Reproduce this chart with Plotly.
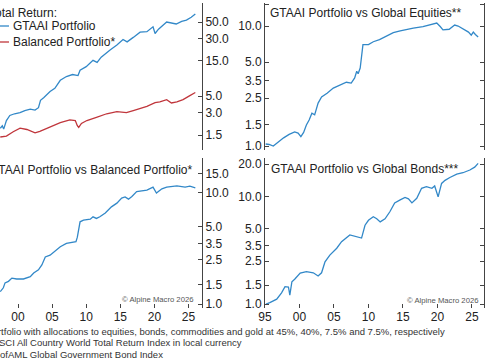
import plotly.graph_objects as go

W, H = 485, 360

# ---------------- data ----------------
tr_years = [1997.4, 1997.7, 1997.9, 1998.3, 1998.8, 1999.5, 2000.3, 2001.0, 2001.8, 2002.5,
            2003.0, 2003.3, 2003.8, 2004.7, 2005.4, 2006.2, 2007.1, 2008.0, 2008.8, 2009.1,
            2010.0, 2011.0, 2011.6, 2012.2, 2013.5, 2014.5, 2015.4, 2016.0, 2016.9, 2017.9,
            2018.9, 2019.8, 2020.1, 2020.6, 2021.8, 2022.5, 2023.2, 2024.0, 2024.7, 2025.4, 2026.0]
gtaai_tr = [1.85, 2.0, 1.8, 2.35, 2.75, 2.9, 3.0, 3.2, 3.35, 3.25,
            3.5, 4.4, 4.8, 5.8, 6.4, 8.2, 9.2, 9.8, 9.5, 11.2,
            12.5, 15.2, 14.3, 16.8, 21.0, 24.5, 29.0, 27.0, 31.0, 36.5,
            37.0, 43.0, 35.0, 40.0, 50.0, 48.0, 47.0, 51.0, 53.0, 58.0, 64.0]

bal_years = [1997.4, 1998.3, 1999.3, 2000.3, 2001.3, 2002.5, 2003.2, 2004.7, 2006.2, 2007.6,
             2008.4, 2008.7, 2008.9, 2009.3, 2010.1, 2011.5, 2013.0, 2014.5, 2015.9, 2016.9,
             2018.9, 2020.1, 2020.8, 2021.8, 2022.5, 2023.3, 2024.2, 2025.2, 2026.0]
balanced_tr = [1.41, 1.45, 1.66, 1.86, 1.78, 1.6, 1.68, 1.93, 2.2, 2.4,
               2.35, 2.0, 1.9, 2.15, 2.35, 2.6, 2.9, 3.1, 3.0, 3.2,
               3.65, 4.1, 4.2, 4.5, 4.05, 4.2, 4.5, 5.1, 5.6]

eq_years = [1995.1, 1995.6, 1996.2, 1996.9, 1997.7, 1998.5, 1999.3, 1999.8, 2000.2, 2000.6,
            2001.0, 2001.4, 2001.8, 2002.2, 2002.7, 2003.2, 2004.0, 2004.9, 2005.9, 2006.8,
            2007.5, 2008.0, 2008.3, 2008.5, 2008.8, 2009.2, 2010.0, 2010.7, 2011.6, 2012.6,
            2013.6, 2014.6, 2015.5, 2016.5, 2017.9, 2018.9, 2019.9, 2020.4, 2020.8, 2021.7,
            2022.5, 2023.0, 2023.7, 2024.5, 2024.9, 2025.2, 2025.5, 2025.9]
vs_equities = [1.04, 1.03, 1.0, 1.08, 1.17, 1.25, 1.31, 1.28, 1.2, 1.3,
               1.5, 1.65, 1.88, 1.82, 2.28, 2.56, 2.75, 3.04, 3.25, 3.4,
               3.35, 3.7, 4.2, 4.0, 4.47, 7.0, 7.0, 7.4, 7.7, 8.3,
               8.8, 9.1, 9.35, 9.6, 9.9, 10.2, 10.6, 9.9, 9.3, 9.4,
               10.2, 10.0, 9.4, 8.9, 8.4, 8.9, 8.5, 8.1]

bal_ratio_years = [1997.4, 1997.85, 1998.1, 1998.6, 1999.1, 1999.8, 2000.8, 2001.8, 2002.3, 2003.0,
                   2003.5, 2004.0, 2004.7, 2005.4, 2006.2, 2007.1, 2007.9, 2008.5, 2008.7, 2009.1,
                   2009.6, 2010.6, 2011.0, 2011.5, 2012.0, 2012.8, 2013.7, 2014.5, 2015.2, 2015.7,
                   2016.2, 2016.7, 2017.4, 2018.9, 2019.8, 2020.3, 2021.1, 2021.8, 2023.3, 2024.5,
                   2025.2, 2026.0]
vs_balanced = [1.29, 1.4, 1.55, 1.6, 1.71, 1.68, 1.68, 1.76, 1.9, 2.03,
               2.25, 2.65, 2.75, 2.96, 3.28, 3.52, 3.6, 3.65, 4.0, 5.5,
               5.7, 5.8, 6.1, 5.9, 6.1, 6.6, 7.5, 8.1, 9.0, 9.2,
               8.8, 9.3, 10.3, 10.6, 11.3, 10.0, 10.9, 11.3, 11.6, 11.3,
               11.5, 11.1]

bond_years = [1995.14, 1995.7, 1996.7, 1997.4, 1997.9, 1998.4, 1998.6, 1998.9, 1999.3, 2000.1,
              2001.0, 2002.0, 2002.7, 2003.2, 2003.7, 2004.4, 2005.4, 2006.1, 2007.3, 2008.5,
              2009.0, 2009.5, 2010.0, 2010.7, 2011.2, 2011.7, 2012.4, 2013.1, 2013.8, 2014.6,
              2015.3, 2015.8, 2016.3, 2017.0, 2017.7, 2018.4, 2019.2, 2019.6, 2020.1, 2020.6,
              2021.1, 2021.8, 2022.8, 2023.7, 2024.7, 2025.4, 2025.9]
vs_bonds = [1.0, 1.03, 1.11, 1.27, 1.45, 1.44, 1.21, 1.61, 1.7, 1.94,
            2.0, 1.95, 1.82, 1.95, 2.47, 2.85, 3.3, 3.8, 4.38, 4.2,
            4.1, 5.4, 6.0, 6.47, 6.2, 5.8, 6.2, 7.2, 8.7, 9.3,
            9.8, 9.5, 8.7, 9.6, 11.9, 12.3, 11.9, 12.5, 9.9, 13.2,
            14.1, 15.0, 16.1, 16.6, 17.6, 18.7, 20.3]

# tick labels
tl_ticks = [1.5, 3.0, 5.0, 15.0, 30.0, 50.0]
tr_ticks = [1.0, 1.5, 2.5, 3.5, 5.0, 10.0, 15.0]
bl_ticks = [1.0, 1.5, 2.5, 3.5, 5.0, 10.0, 15.0]
br_ticks = [1.0, 1.5, 2.5, 3.5, 5.0, 10.0, 20.0]
x_left_ticks = [2000, 2005, 2010, 2015, 2020, 2025]
x_left_text = ["00", "05", "10", "15", "20", "25"]
x_right_ticks = [1995, 2000, 2005, 2010, 2015, 2020, 2025]
x_right_text = ["95", "00", "05", "10", "15", "20", "25"]

BLUE = "#3288c8"
RED = "#c0363c"
AX = "#444444"
TXT = "#222222"
FONT = "Arial, Liberation Sans, sans-serif"

def px(x):
    return x / W

def py(y):
    return 1 - y / H

fig = go.Figure()

fig.add_trace(go.Scatter(x=tr_years, y=gtaai_tr, mode="lines", line=dict(color=BLUE, width=1.3),
                         xaxis="x", yaxis="y", showlegend=False))
fig.add_trace(go.Scatter(x=bal_years, y=balanced_tr, mode="lines", line=dict(color=RED, width=1.3),
                         xaxis="x", yaxis="y", showlegend=False))
fig.add_trace(go.Scatter(x=eq_years, y=vs_equities, mode="lines", line=dict(color=BLUE, width=1.3),
                         xaxis="x2", yaxis="y2", showlegend=False))
fig.add_trace(go.Scatter(x=bal_ratio_years, y=vs_balanced, mode="lines", line=dict(color=BLUE, width=1.3),
                         xaxis="x3", yaxis="y3", showlegend=False))
fig.add_trace(go.Scatter(x=bond_years, y=vs_bonds, mode="lines", line=dict(color=BLUE, width=1.3),
                         xaxis="x4", yaxis="y4", showlegend=False))

dx_left = [0, px(202)]
dx_right = [px(265), px(484)]
dy_top = [py(150), py(3)]
dy_bot = [py(308), py(158)]

xl_range = [1997.36, 2026.98]
xr_range = [1995.0, 2026.75]

def xaxis(domain, rng, anchor, labels, tv=None, tt=None):
    d = dict(domain=domain, range=rng, anchor=anchor, showgrid=False, zeroline=False,
             showline=False, fixedrange=True)
    if labels:
        d.update(tickmode="array", tickvals=tv, ticktext=tt, ticks="inside", ticklen=4,
                 tickcolor=AX, tickwidth=1, tickfont=dict(size=12, color=TXT, family=FONT))
    else:
        d.update(showticklabels=False, ticks="")
    return d

def yaxis(domain, rng, anchor, side, tv, mirror):
    d = dict(domain=domain, type="log", range=rng, anchor=anchor, side=side,
             showgrid=False, zeroline=False, showline=True, linecolor=AX, linewidth=1,
             ticks="inside", ticklen=4, tickcolor=AX, tickwidth=1,
             tickmode="array", tickvals=tv, ticktext=["%.1f" % v for v in tv],
             tickfont=dict(size=12, color=TXT, family=FONT), fixedrange=True)
    if mirror:
        d["mirror"] = "ticks"
    return d

fig.update_layout(
    width=W, height=H,
    margin=dict(l=0, r=0, t=0, b=0, autoexpand=False),
    paper_bgcolor="white", plot_bgcolor="white",
    font=dict(family=FONT, color=TXT),
    xaxis=xaxis(dx_left, xl_range, "y", False),
    yaxis=yaxis(dy_top, [-0.026, 1.955], "x", "right", tl_ticks, False),
    xaxis2=xaxis(dx_right, xr_range, "y2", False),
    yaxis2=yaxis(dy_top, [-0.033, 1.192], "x2", "left", tr_ticks, True),
    xaxis3=xaxis(dx_left, xl_range, "y3", True, x_left_ticks, x_left_text),
    yaxis3=yaxis(dy_bot, [-0.036, 1.315], "x3", "right", bl_ticks, False),
    xaxis4=xaxis(dx_right, xr_range, "y4", True, x_right_ticks, x_right_text),
    yaxis4=yaxis(dy_bot, [-0.037, 1.357], "x4", "left", br_ticks, True),
)

anns = []

def note(text, x, y, xanchor="left", size=12, color=TXT):
    anns.append(dict(text=text, x=px(x), y=py(y), xref="paper", yref="paper",
                     xanchor=xanchor, yanchor="middle", showarrow=False,
                     font=dict(size=size, color=color, family=FONT), borderpad=0))

note("Total Return:", 57.5, 13, "right")
note("GTAAI Portfolio", 12, 26)
note("Balanced Portfolio*", 12, 42)
note("GTAAI Portfolio vs Global Equities**", 269, 13)
note("GTAAI Portfolio vs Balanced Portfolio*", 194, 170, "right")
note("GTAAI Portfolio vs Global Bonds***", 270, 169)
note("© Alpine Macro 2026", 194, 299, "right", size=7.7, color="#555555")
note("© Alpine Macro 2026", 479, 300, "right", size=7.7, color="#555555")
note("* Portfolio with allocations to equities, bonds, commodities and gold at 45%, 40%, 7.5% and 7.5%, respectively",
     -21, 331, size=9.5, color="#333333")
note("** MSCI All Country World Total Return Index in local currency", -20, 342.5, size=9.5, color="#333333")
note("*** BofAML Global Government Bond Index", -21, 354, size=9.5, color="#333333")

fig.update_layout(annotations=anns)

fig.update_layout(shapes=[
    dict(type="line", xref="paper", yref="paper", x0=px(-10), x1=px(9), y0=py(26), y1=py(26),
         line=dict(color=BLUE, width=1.3)),
    dict(type="line", xref="paper", yref="paper", x0=px(-10), x1=px(9), y0=py(42), y1=py(42),
         line=dict(color=RED, width=1.3)),
])

fig.write_html("out.html", config={"displayModeBar": False, "staticPlot": True},
               post_script="document.body.style.margin='0';document.body.style.overflow='hidden';")
